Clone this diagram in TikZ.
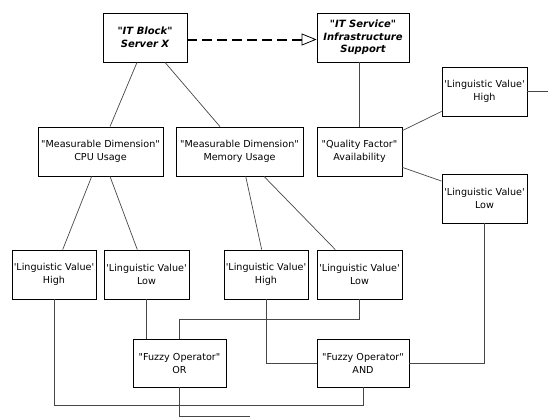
\documentclass[tikz,border=0pt]{standalone}
\usepackage{fontspec}
\setmainfont{DejaVu Sans}[Ligatures=TeXOff]
\usetikzlibrary{arrows.meta,calc}
\begin{document}
\begin{tikzpicture}[x=1pt,y=-1pt,
 box/.style={draw=black, line width=0.8pt, fill=white, inner sep=0pt, minimum height=49pt, align=center, font=\fontsize{9.6}{13}\selectfont},
 topbox/.style={box, font=\fontsize{10}{12.5}\selectfont\bfseries\itshape},
 conn/.style={draw=black!72, line width=0.7pt},
 realize/.style={draw=black, line width=2pt, dash pattern=on 10pt off 5pt,
   -{Triangle[open,length=15pt,width=12pt,line width=0.8pt,fill=white]}},
]
\useasboundingbox (0,0) rectangle (548,418);
% nodes
\node[topbox, minimum width=84pt] (itb) at (145,37.5) {"IT Block"\\Server X};
\node[topbox, minimum width=92pt] (its) at (363,37.5) {"IT Service"\\Infrastructure\\Support};
\node[box, minimum width=125pt] (cpu) at (100.5,151.5) {"Measurable Dimension"\\CPU Usage};
\node[box, minimum width=127pt] (mem) at (239.5,151.5) {"Measurable Dimension"\\Memory Usage};
\node[box, minimum width=85pt] (qf) at (359.5,151.5) {"Quality Factor"\\Availability};
\node[box, minimum width=85pt] (lvh3) at (484.5,91.5) {'Linguistic Value'\\High};
\node[box, minimum width=85pt] (lvl3) at (484.5,198.5) {'Linguistic Value'\\Low};
\node[box, minimum width=84pt] (lvh1) at (54,274.5) {'Linguistic Value'\\High};
\node[box, minimum width=85pt] (lvl1) at (146.5,274.5) {'Linguistic Value'\\Low};
\node[box, minimum width=84pt] (lvh2) at (266,274.5) {'Linguistic Value'\\High};
\node[box, minimum width=85pt] (lvl2) at (359.5,274.5) {'Linguistic Value'\\Low};
\node[box, minimum width=93pt, minimum height=48pt] (or) at (179.5,363) {"Fuzzy Operator"\\OR};
\node[box, minimum width=92pt, minimum height=48pt] (and) at (363,363) {"Fuzzy Operator"\\AND};
% helper coordinates
\coordinate (edgeR) at (548,92);
\coordinate (b1) at (0,405);
\coordinate (b2) at (0,319);
\coordinate (bot) at (250,416);
% connectors
\draw[realize] ([yshift=-2pt]itb.east) -- ([yshift=-2pt]its.west);
\draw[conn] ([xshift=-8pt]itb.south) -- ([xshift=9.5pt]cpu.north);
\draw[conn] ([xshift=20pt]itb.south) -- ([xshift=-19.5pt]mem.north);
\draw[conn] (qf.north) -- (qf.north |- its.south);
\draw[conn] ([yshift=-4pt]qf.north east) -- ([yshift=5pt]lvh3.south west);
\draw[conn] ([yshift=9pt]qf.south east) -- ([yshift=-7.5pt]lvl3.north west);
\draw[conn] (lvh3.east) -- (lvh3.east -| edgeR);
\draw[conn] ([xshift=-8.8pt]cpu.south) -- ([xshift=8.7pt]lvh1.north);
\draw[conn] ([xshift=9.5pt]cpu.south) -- ([xshift=-9.2pt]lvl1.north);
\draw[conn] ([xshift=6.2pt]mem.south) -- ([xshift=-4.3pt]lvh2.north);
\draw[conn] ([xshift=24.5pt]mem.south) -- ([xshift=-24.2pt]lvl2.north);
\draw[conn] (lvh1.south) |- (b1 -| and.south) -- (and.south);
\draw[conn] (lvl1.south) -- (lvl1.south |- or.north);
\draw[conn] (lvl2.south) |- (b2 -| or.north) -- (or.north);
\draw[conn] (lvh2.south) |- (and.west);
\draw[conn] (lvl3.south) |- (and.east);
\draw[conn] (or.south) |- (bot);
\end{tikzpicture}
\end{document}
